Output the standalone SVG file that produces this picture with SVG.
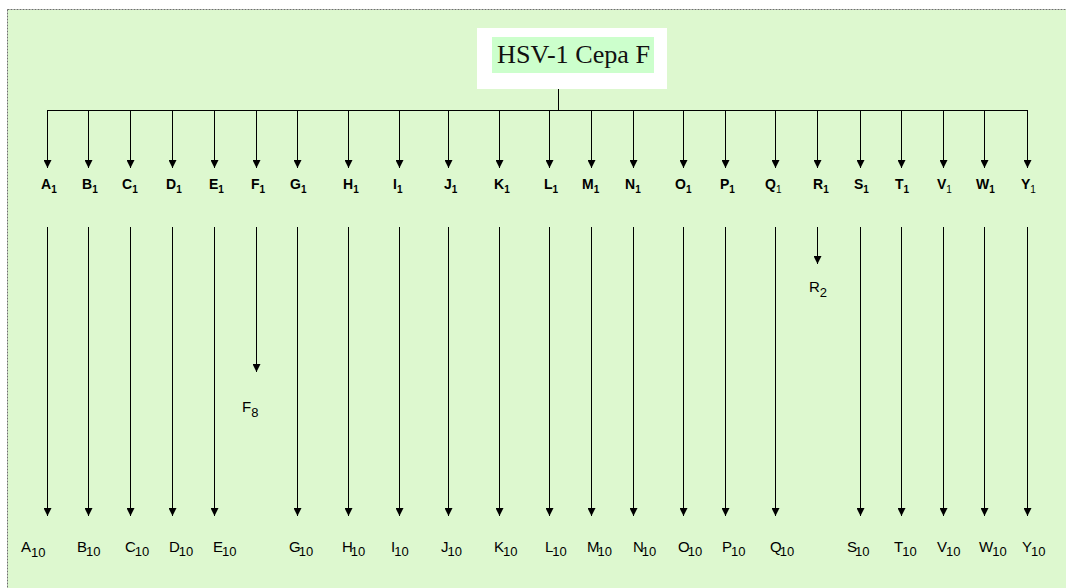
<svg xmlns="http://www.w3.org/2000/svg" width="1066" height="588" viewBox="0 0 1066 588">
<style>
.l1{font-family:"Liberation Sans",Arial,sans-serif;font-weight:bold;font-size:14px;fill:#000}
.l1 tspan{font-size:10px}
.l2{font-family:"Liberation Sans",Arial,sans-serif;font-size:15px;fill:#000}
.l2 tspan{font-size:13px}
.c{stroke:#000;stroke-width:1;fill:none}
.ca{stroke:#000;stroke-width:1;fill:none;marker-end:url(#ah)}
</style>
<defs>
<marker id="ah" markerUnits="userSpaceOnUse" viewBox="0 0 8 8" refX="8" refY="4" markerWidth="8" markerHeight="8" orient="auto">
<path d="M0,0 L8,4 L0,8 z" fill="#000"/>
</marker>
</defs>
<rect x="0" y="0" width="1066" height="588" fill="#ffffff"/>
<rect x="7.5" y="9.5" width="1070" height="590" fill="#ddf8cf" stroke="#6e6e6e" stroke-dasharray="2,1"/>
<g id="root">
<rect x="477" y="28" width="190" height="61" fill="#ffffff"/>
<rect x="492" y="37" width="162" height="36" fill="#ccffcc"/>
<text x="497" y="63" font-family="Liberation Serif,'Times New Roman',serif" font-size="25" fill="#111" textLength="153" lengthAdjust="spacingAndGlyphs">HSV-1 Cepa F</text>
</g>
<g id="connectors">
<path class="c" d="M558.5,89 V110.5 M47.5,110.5 H1027.5"/>
<g class="ca">
<line x1="47.5" y1="110" x2="47.5" y2="168"/><line x1="88.5" y1="110" x2="88.5" y2="168"/><line x1="130.5" y1="110" x2="130.5" y2="168"/><line x1="172.5" y1="110" x2="172.5" y2="168"/><line x1="214.5" y1="110" x2="214.5" y2="168"/><line x1="256.5" y1="110" x2="256.5" y2="168"/><line x1="297.5" y1="110" x2="297.5" y2="168"/><line x1="348.5" y1="110" x2="348.5" y2="168"/><line x1="399.5" y1="110" x2="399.5" y2="168"/><line x1="448.5" y1="110" x2="448.5" y2="168"/><line x1="499.5" y1="110" x2="499.5" y2="168"/><line x1="549.5" y1="110" x2="549.5" y2="168"/><line x1="591.5" y1="110" x2="591.5" y2="168"/><line x1="633.5" y1="110" x2="633.5" y2="168"/><line x1="683.5" y1="110" x2="683.5" y2="168"/><line x1="725.5" y1="110" x2="725.5" y2="168"/><line x1="775.5" y1="110" x2="775.5" y2="168"/><line x1="817.5" y1="110" x2="817.5" y2="168"/><line x1="860.5" y1="110" x2="860.5" y2="168"/><line x1="901.5" y1="110" x2="901.5" y2="168"/><line x1="943.5" y1="110" x2="943.5" y2="168"/><line x1="984.5" y1="110" x2="984.5" y2="168"/><line x1="1027.5" y1="110" x2="1027.5" y2="168"/>
<line x1="47.5" y1="227" x2="47.5" y2="516"/><line x1="88.5" y1="227" x2="88.5" y2="516"/><line x1="130.5" y1="227" x2="130.5" y2="516"/><line x1="172.5" y1="227" x2="172.5" y2="516"/><line x1="214.5" y1="227" x2="214.5" y2="516"/><line x1="256.5" y1="227" x2="256.5" y2="372"/><line x1="297.5" y1="227" x2="297.5" y2="516"/><line x1="348.5" y1="227" x2="348.5" y2="516"/><line x1="399.5" y1="227" x2="399.5" y2="516"/><line x1="448.5" y1="227" x2="448.5" y2="516"/><line x1="499.5" y1="227" x2="499.5" y2="516"/><line x1="549.5" y1="227" x2="549.5" y2="516"/><line x1="591.5" y1="227" x2="591.5" y2="516"/><line x1="633.5" y1="227" x2="633.5" y2="516"/><line x1="683.5" y1="227" x2="683.5" y2="516"/><line x1="725.5" y1="227" x2="725.5" y2="516"/><line x1="775.5" y1="227" x2="775.5" y2="516"/><line x1="817.5" y1="227" x2="817.5" y2="264"/><line x1="860.5" y1="227" x2="860.5" y2="516"/><line x1="901.5" y1="227" x2="901.5" y2="516"/><line x1="943.5" y1="227" x2="943.5" y2="516"/><line x1="984.5" y1="227" x2="984.5" y2="516"/><line x1="1027.5" y1="227" x2="1027.5" y2="516"/>
</g>
</g>
<g id="A1"><text class="l1" x="41" y="189">A<tspan dy="4">1</tspan></text></g>
<g id="B1"><text class="l1" x="82" y="189">B<tspan dy="4">1</tspan></text></g>
<g id="C1"><text class="l1" x="122" y="189">C<tspan dy="4">1</tspan></text></g>
<g id="D1"><text class="l1" x="166" y="189">D<tspan dy="4">1</tspan></text></g>
<g id="E1"><text class="l1" x="209" y="189">E<tspan dy="4">1</tspan></text></g>
<g id="F1"><text class="l1" x="251" y="189">F<tspan dy="4">1</tspan></text></g>
<g id="G1"><text class="l1" x="290" y="189">G<tspan dy="4">1</tspan></text></g>
<g id="H1"><text class="l1" x="343" y="189">H<tspan dy="4">1</tspan></text></g>
<g id="I1"><text class="l1" x="393" y="189">I<tspan dy="4">1</tspan></text></g>
<g id="J1"><text class="l1" x="444" y="189">J<tspan dy="4">1</tspan></text></g>
<g id="K1"><text class="l1" x="494" y="189">K<tspan dy="4">1</tspan></text></g>
<g id="L1"><text class="l1" x="544" y="189">L<tspan dy="4">1</tspan></text></g>
<g id="M1"><text class="l1" x="582" y="189">M<tspan dy="4">1</tspan></text></g>
<g id="N1"><text class="l1" x="625" y="189">N<tspan dy="4">1</tspan></text></g>
<g id="O1"><text class="l1" x="675" y="189">O<tspan dy="4">1</tspan></text></g>
<g id="P1"><text class="l1" x="720" y="189">P<tspan dy="4">1</tspan></text></g>
<g id="Q1"><text class="l1" x="765" y="189">Q<tspan dy="4" font-weight="normal">1</tspan></text></g>
<g id="R1"><text class="l1" x="813" y="189">R<tspan dy="4">1</tspan></text></g>
<g id="S1"><text class="l1" x="854" y="189">S<tspan dy="4">1</tspan></text></g>
<g id="T1"><text class="l1" x="895" y="189">T<tspan dy="4">1</tspan></text></g>
<g id="V1"><text class="l1" x="937" y="189">V<tspan dy="4" font-weight="normal">1</tspan></text></g>
<g id="W1"><text class="l1" x="976" y="189">W<tspan dy="4">1</tspan></text></g>
<g id="Y1"><text class="l1" x="1021" y="189">Y<tspan dy="4" font-weight="normal">1</tspan></text></g>
<g id="F8"><text class="l2" x="242" y="412">F<tspan dy="5" font-size="14">8</tspan></text></g>
<g id="R2"><text class="l2" x="809" y="292">R<tspan dy="5" font-size="14">2</tspan></text></g>
<g id="A10"><text class="l2" x="21" y="552">A<tspan dy="5" font-size="14">10</tspan></text></g>
<g id="B10"><text class="l2" x="77" y="552">B<tspan dy="4" dx="-1">10</tspan></text></g>
<g id="C10"><text class="l2" x="125" y="552">C<tspan dy="4" dx="-1">10</tspan></text></g>
<g id="D10"><text class="l2" x="169" y="552">D<tspan dy="4" dx="-1">10</tspan></text></g>
<g id="E10"><text class="l2" x="213" y="552">E<tspan dy="4" dx="-1">10</tspan></text></g>
<g id="G10"><text class="l2" x="289" y="552">G<tspan dy="4" dx="-2">10</tspan></text></g>
<g id="H10"><text class="l2" x="342" y="552">H<tspan dy="4" dx="-2">10</tspan></text></g>
<g id="I10"><text class="l2" x="391" y="552">I<tspan dy="4" dx="-1">10</tspan></text></g>
<g id="J10"><text class="l2" x="441" y="552">J<tspan dy="4" dx="-1">10</tspan></text></g>
<g id="K10"><text class="l2" x="494" y="552">K<tspan dy="4" dx="-1">10</tspan></text></g>
<g id="L10"><text class="l2" x="545" y="552">L<tspan dy="4" dx="-1">10</tspan></text></g>
<g id="M10"><text class="l2" x="587" y="552">M<tspan dy="4" dx="-2">10</tspan></text></g>
<g id="N10"><text class="l2" x="633" y="552">N<tspan dy="4" dx="-2">10</tspan></text></g>
<g id="O10"><text class="l2" x="678" y="552">O<tspan dy="4" dx="-2">10</tspan></text></g>
<g id="P10"><text class="l2" x="722" y="552">P<tspan dy="4" dx="-1">10</tspan></text></g>
<g id="Q10"><text class="l2" x="770" y="552">Q<tspan dy="4" dx="-2">10</tspan></text></g>
<g id="S10"><text class="l2" x="847" y="552">S<tspan dy="4" dx="-2">10</tspan></text></g>
<g id="T10"><text class="l2" x="894" y="552">T<tspan dy="4" dx="-1">10</tspan></text></g>
<g id="V10"><text class="l2" x="937" y="552">V<tspan dy="4" dx="-1">10</tspan></text></g>
<g id="W10"><text class="l2" x="979" y="552">W<tspan dy="4" dx="-1">10</tspan></text></g>
<g id="Y10"><text class="l2" x="1022" y="552">Y<tspan dy="4" dx="-1">10</tspan></text></g>
</svg>
